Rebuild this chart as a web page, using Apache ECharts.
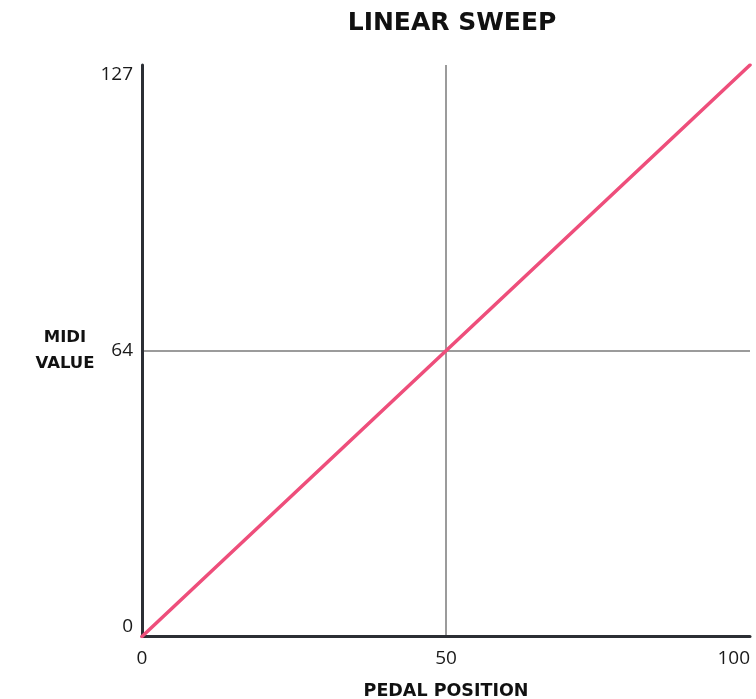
<!DOCTYPE html>
<html><head><meta charset="utf-8">
<script src="https://cdn.jsdelivr.net/npm/echarts@6/dist/echarts.min.js"></script>
<style>html,body{margin:0;padding:0;background:#fff}#c{width:756px;height:699px}</style>
</head><body><div id="c"></div>
<script>
const titleText = 'LINEAR SWEEP';
const xName = 'PEDAL POSITION';
const yName = 'MIDI\nVALUE';
const pedalPosition = [0, 100];
const midiValue = [0, 127];
const xTickLabels = ['0', '50', '100'];
const yTickLabels = ['0', '64', '127'];

const chart = echarts.init(document.getElementById('c'), null, {renderer: 'canvas'});
const seriesData = pedalPosition.map((x, i) => [x, midiValue[i]]);
chart.setOption({
  animation: false,
  backgroundColor: '#fff',
  title: {
    text: titleText, left: 447, top: 6, textAlign: 'center',
    textStyle: {fontFamily: 'DejaVu Sans', fontWeight: 'bold', fontSize: 25, color: '#111'}
  },
  grid: {left: 142, right: 6, top: 65, bottom: 62.5, outerBoundsMode: 'none', containLabel: false},
  xAxis: {
    type: 'value', min: 0, max: 100, interval: 50,
    name: xName, nameLocation: 'middle', nameGap: 46,
    nameTextStyle: {fontFamily: 'DejaVu Sans', fontWeight: 'bold', fontSize: 17.5, color: '#111'},
    axisLine: {show: true, lineStyle: {color: '#2b2e34', width: 3}},
    axisTick: {show: false},
    axisLabel: {
      margin: 13, fontFamily: 'Open Sans', fontSize: 19, color: '#1a1a1a',
      alignMaxLabel: 'right',
      formatter: (v) => xTickLabels[Math.round(v / 50)]
    },
    splitLine: {show: true, showMinLine: false, showMaxLine: false, lineStyle: {color: '#9b9b9b', width: 2}}
  },
  yAxis: {
    type: 'value', min: 0, max: 127, interval: 63.5,
    name: yName, nameLocation: 'middle', nameGap: 46, nameRotate: 0,
    nameTextStyle: {fontFamily: 'DejaVu Sans', fontWeight: 'bold', fontSize: 16.5, color: '#111', align: 'center', lineHeight: 26, padding: [8, 0, 0, 0]},
    axisLine: {show: true, lineStyle: {color: '#2b2e34', width: 3}},
    axisTick: {show: false},
    axisLabel: {
      margin: 9, fontFamily: 'Open Sans', fontSize: 19, color: '#1a1a1a',
      verticalAlignMaxLabel: 'top', verticalAlignMinLabel: 'bottom',
      formatter: (v) => yTickLabels[Math.round(v / 63.5)]
    },
    splitLine: {show: true, showMinLine: false, showMaxLine: false, lineStyle: {color: '#9b9b9b', width: 2}}
  },
  series: [{
    type: 'line', data: seriesData, symbol: 'none',
    lineStyle: {color: '#ee4e7b', width: 3.5, cap: 'round'}
  }]
});
</script></body></html>
